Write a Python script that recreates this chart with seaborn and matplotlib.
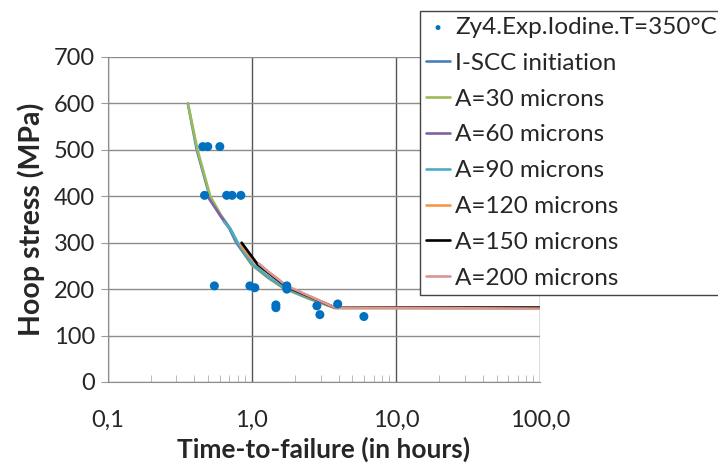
import pandas as pd
import seaborn as sns
import matplotlib.pyplot as plt
from matplotlib.ticker import FixedLocator, LogLocator, NullFormatter

# experimental points (time in hours, hoop stress in MPa)
exp_t = [0.457, 0.495, 0.60, 0.47, 0.67, 0.73, 0.84, 0.55, 0.97, 1.05,
         1.47, 1.47, 1.75, 1.75, 2.83, 2.97, 3.95, 6.0]
exp_s = [507, 507, 507, 402, 402, 402, 402, 207, 207, 203,
         166, 160, 207, 200, 164, 145, 168, 141]

# model curves
isc_t = [0.36, 0.415, 0.51, 0.60, 0.70, 0.78, 1.0, 1.3, 1.65, 2.5, 3.8, 100]
isc_s = [600, 500, 400, 360, 330, 300, 253, 225, 203, 180, 160, 160]
a30_t = [0.36, 0.42, 0.515, 0.61, 0.71, 0.79, 1.0, 1.3, 1.66, 2.5, 3.8, 100]
a30_s = [600, 500, 400, 360, 330, 300, 252, 224, 202, 179, 159, 159]
a60_t = [0.48, 0.60, 0.70, 0.79, 1.0, 1.3, 1.66, 2.5, 3.8, 100]
a60_s = [405, 360, 332, 300, 255, 226, 204, 181, 160, 160]
a90_t = [0.64, 0.71, 0.80, 1.0, 1.3, 1.66, 2.5, 3.8, 100]
a90_s = [345, 330, 300, 256, 227, 204, 181, 160, 160]
a120_t = [0.84, 1.02, 1.3, 1.7, 2.5, 3.8, 100]
a120_s = [295, 262, 235, 208, 183, 160, 160]
a150_t = [0.85, 1.1, 1.75, 3.8, 100]
a150_s = [300, 253, 205, 160, 160]
a200_t = [1.12, 1.3, 1.75, 3.8, 100]
a200_s = [255, 238, 207, 160, 158]

names = ['I-SCC initiation', 'A=30 microns', 'A=60 microns', 'A=90 microns',
         'A=120 microns', 'A=150 microns', 'A=200 microns']
colors = ['#4A7EBB', '#9BBB59', '#7E62A1', '#4BACC6', '#F79646', '#000000', '#D99694']
curves = [(isc_t, isc_s), (a30_t, a30_s), (a60_t, a60_s), (a90_t, a90_s),
          (a120_t, a120_s), (a150_t, a150_s), (a200_t, a200_s)]

rows = []
for name, (t, s) in zip(names, curves):
    for i in range(len(t)):
        rows.append({'t': t[i], 's': s[i], 'serie': name})
lines = pd.DataFrame(rows)
pts = pd.DataFrame({'t': exp_t, 's': exp_s})

sns.set_style('white')
plt.rcParams['font.family'] = ['Lato', 'DejaVu Sans']

fig = plt.figure(figsize=(7.18, 4.71), dpi=100)
ax = fig.add_axes([0.150, 0.189, 0.602, 0.690])

sns.scatterplot(data=pts, x='t', y='s', ax=ax, color='#0070C0', s=42,
                edgecolor='none', label='Zy4.Exp.Iodine.T=350°C', zorder=3)
sns.lineplot(data=lines, x='t', y='s', hue='serie', hue_order=names,
             palette=colors, sort=False, estimator=None,
             ax=ax, linewidth=1.9, zorder=2)

ax.set_xscale('log')
ax.set_xlim(0.1, 100)
ax.set_ylim(0, 700)
ax.xaxis.set_major_locator(FixedLocator([0.1, 1, 10, 100]))
ax.xaxis.set_minor_locator(LogLocator(base=10, subs=range(2, 10)))
ax.xaxis.set_minor_formatter(NullFormatter())
ax.set_xticklabels(['0,1', '1,0', '10,0', '100,0'])
ax.set_yticks(range(0, 701, 100))
ax.tick_params(axis='x', which='major', labelsize=17, length=0, pad=20)
ax.tick_params(axis='x', which='minor', direction='in', length=5, color='#b0b0b0', bottom=True)
ax.tick_params(axis='y', labelsize=17, length=5, color='#9a9a9a', left=True, pad=4)
ax.grid(axis='y', color='#8c8c8c', linewidth=1.0)
ax.grid(axis='x', which='major', color='#555555', linewidth=1.0)
ax.set_axisbelow(True)
for sp in ['top', 'right']:
    ax.spines[sp].set_visible(False)
ax.spines['left'].set_color('#8c8c8c')
ax.spines['bottom'].set_color('#8c8c8c')

ax.set_xlabel('Time-to-failure (in hours)', fontsize=19, fontweight='bold', labelpad=4)
ax.set_ylabel('Hoop stress (MPa)', fontsize=20.5, fontweight='bold', labelpad=6)

h, l = ax.get_legend_handles_labels()
leg = ax.legend(h, l, loc='upper left', bbox_to_anchor=(0.722, 1.142), fontsize=17.5,
                frameon=True, fancybox=False, edgecolor='#444444', framealpha=1,
                handlelength=1.0, handletextpad=0.2, labelspacing=0.61,
                borderpad=0.25, borderaxespad=0, markerscale=0.55)
leg.get_frame().set_linewidth(1.0)

fig.savefig('out.png', dpi=100)
